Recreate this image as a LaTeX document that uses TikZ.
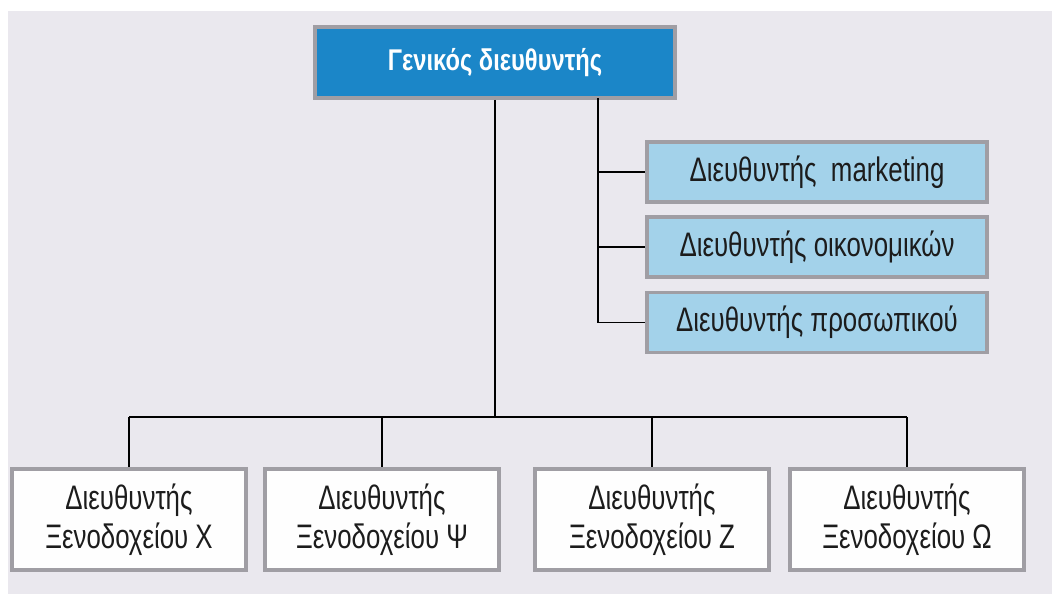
\documentclass[tikz,border=0pt]{standalone}
\usepackage{fontspec}
\setmainfont{Liberation Sans}
\newfontfamily\condfont{Liberation Sans}[FakeStretch=0.76]
\newfontfamily\titlefont{Liberation Sans}[FakeStretch=0.79]
\definecolor{paper}{HTML}{EAE8EE}
\definecolor{chiefblue}{HTML}{1B86C8}
\definecolor{staffblue}{HTML}{A3D2EA}
\definecolor{frame}{HTML}{A09EA4}
\definecolor{ink}{HTML}{1C1C1C}
\tikzset{
  box/.style={draw=frame, line width=3.5pt, inner sep=0pt, align=center,
    font=\condfont\fontsize{34}{39}\selectfont, text=ink},
  chiefbox/.style={box, fill=chiefblue, text=white, minimum width=360pt,
    minimum height=71pt, font=\titlefont\bfseries\fontsize{30}{34}\selectfont},
  staffbox/.style={box, fill=staffblue, minimum width=340pt, minimum height=60pt},
  hotelbox/.style={box, fill=white!97!paper, minimum width=234pt, minimum height=101pt},
  link/.style={draw=black, line width=1.4pt}
}
\begin{document}
\begin{tikzpicture}[x=1pt,y=-1pt]
  % page and paper background
  \fill[white] (0,0) rectangle (1052,594);
  \fill[paper] (8,11) rectangle (1052,594);
  \useasboundingbox (0,0) rectangle (1052,594);

  % general manager
  \node[chiefbox] (gm) at (495,62.5) {Γενικός διευθυντής};

  % staff managers
  \node[staffbox] (mk) at (817,172) {Διευθυντής\ \ marketing};
  \node[staffbox] (fin) at (817,247) {Διευθυντής οικονομικών};
  \node[staffbox] (hr) at (817,322.5) {Διευθυντής προσωπικού};

  % hotel managers
  \node[hotelbox] (hx) at (129,519.5) {Διευθυντής\\Ξενοδοχείου Χ};
  \node[hotelbox] (hy) at (382,519.5) {Διευθυντής\\Ξενοδοχείου Ψ};
  \node[hotelbox] (hz) at (652,519.5) {Διευθυντής\\Ξενοδοχείου Ζ};
  \node[hotelbox] (hw) at (907,519.5) {Διευθυντής\\Ξενοδοχείου Ω};

  % connector helpers
  \coordinate (bus) at (0,417);
  \coordinate (stf) at (598,98);

  % line of command down to the hotels
  \draw[link] (gm.south) -- (gm.south |- bus);
  \draw[link] (hx.north |- bus) -- (hw.north |- bus);
  \foreach \h in {hx,hy,hz,hw}
    \draw[link] (\h.north |- bus) -- (\h.north);

  % staff line
  \draw[link] (stf) -- (stf |- hr.west);
  \foreach \s in {mk,fin,hr}
    \draw[link] (stf |- \s.west) -- (\s.west);
\end{tikzpicture}
\end{document}
